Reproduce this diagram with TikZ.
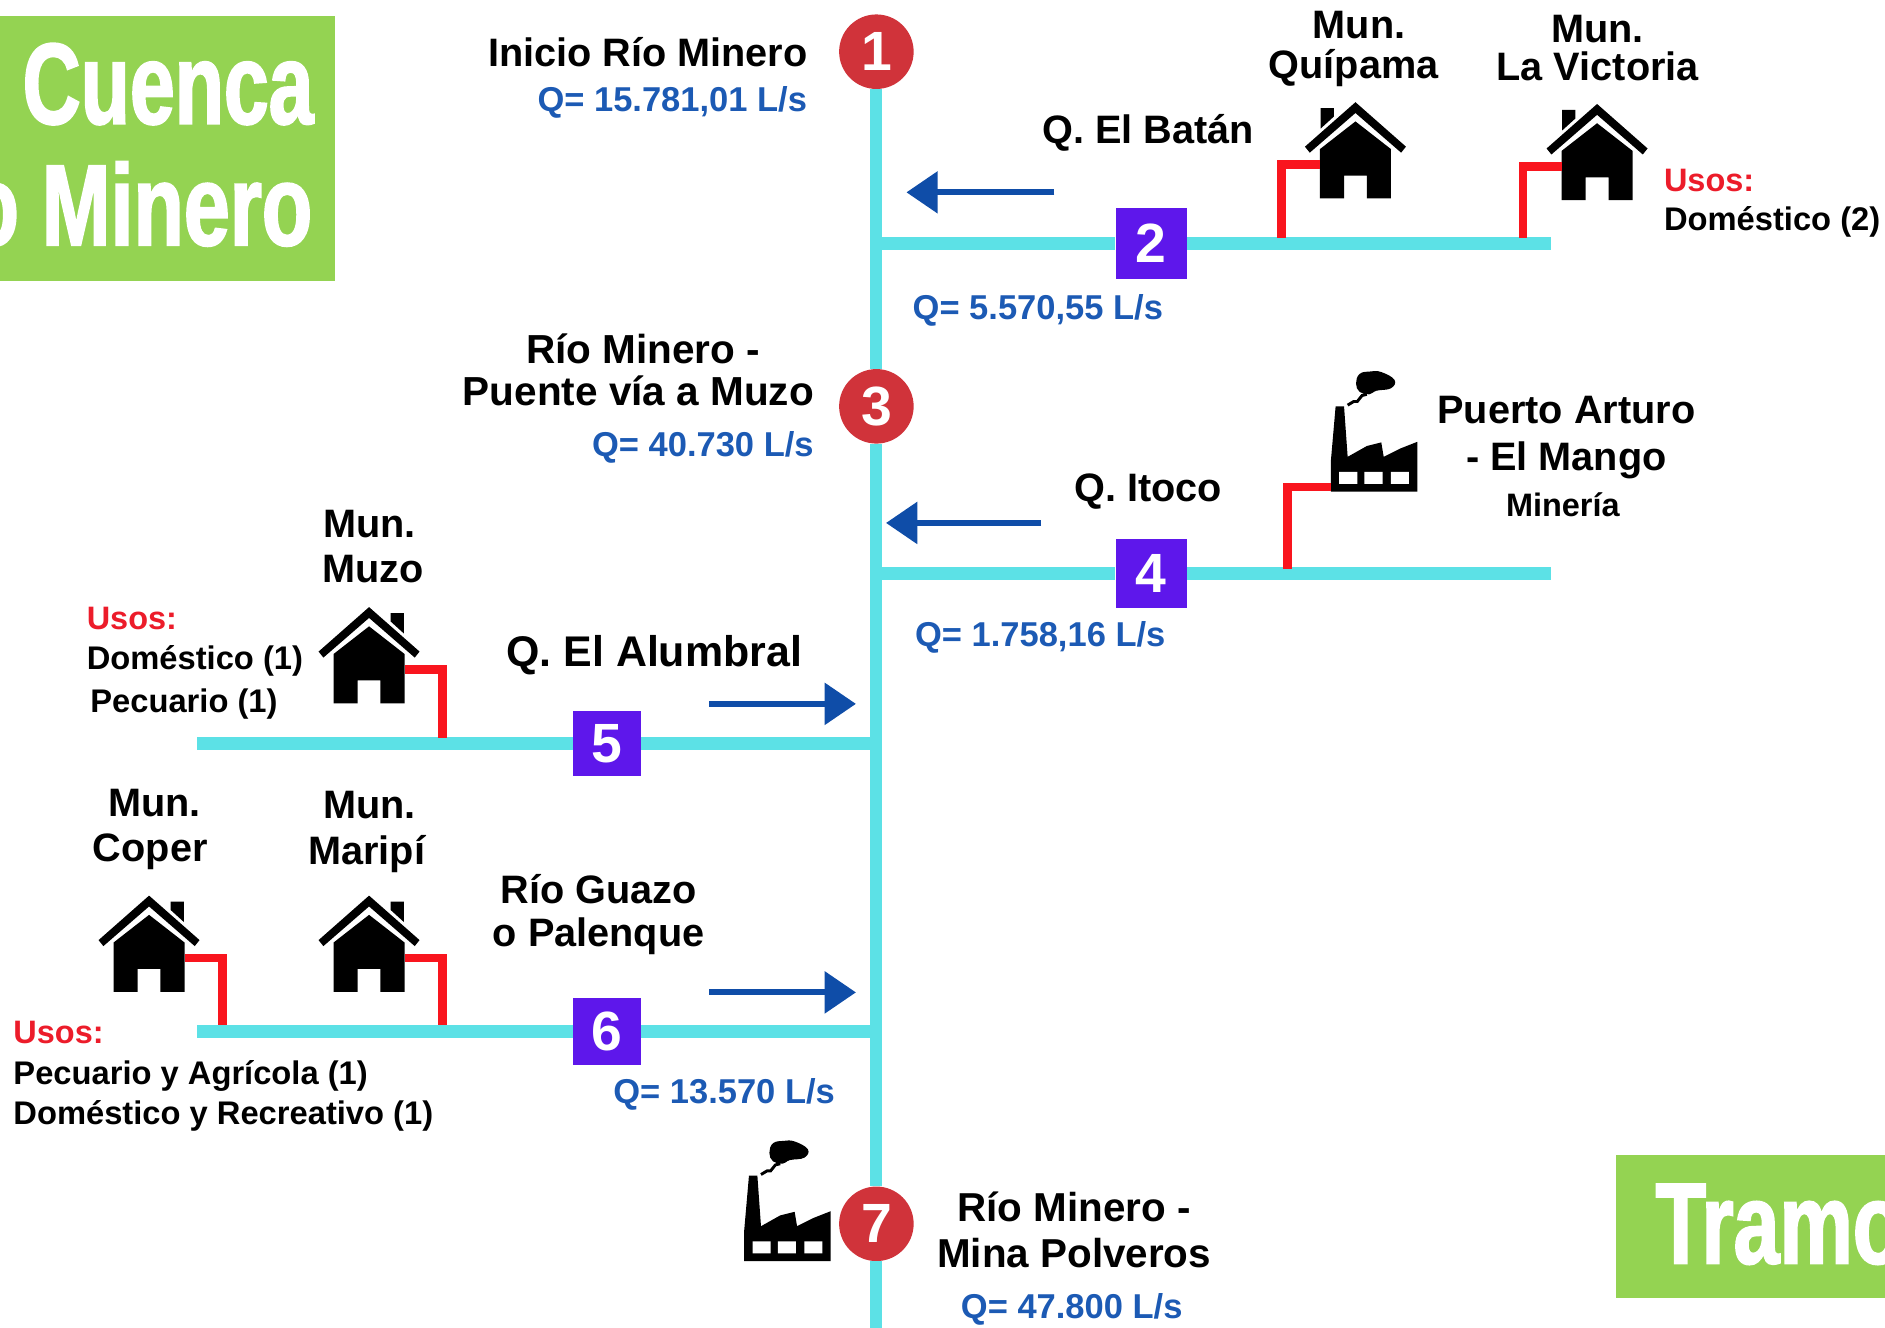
\documentclass[tikz,border=0pt]{standalone}
\usepackage{fontspec}
\setmainfont{Liberation Sans}
\newfontfamily\titlefont{Liberation Sans}[FakeStretch=0.715,FakeBold=1.6]
\usetikzlibrary{arrows.meta}
\definecolor{verde}{HTML}{94D352}
\definecolor{rio}{HTML}{5CE1E6}
\definecolor{morado}{HTML}{5E17EB}
\definecolor{rojoc}{HTML}{D0333A}
\definecolor{rojol}{HTML}{F9151E}
\definecolor{azulf}{HTML}{0F4DA8}
\definecolor{azult}{HTML}{1C5AB4}
\definecolor{rojot}{HTML}{EC1C2A}
\newcommand{\fs}[2]{\fontsize{#1}{#2}\selectfont\bfseries}
\tikzset{
  x=1pt,y=-1pt,
  river/.style={draw=rio,line width=10pt},
  uso/.style={draw=rojol,line width=7pt},
  flujo/.style={draw=azulf,line width=5pt,-{Triangle[length=26pt,width=34pt]}},
  punto/.style={circle,fill=rojoc,minimum size=62pt,inner sep=0pt,text=white,font=\fs{46}{46}},
  tramo/.style={rectangle,fill=morado,inner sep=0pt,text=white,font=\fs{46}{46}},
  banner/.style={fill=verde,draw=none},
  titulo/.style={text=white,inner sep=0pt,font=\titlefont\fs{96}{101}},
  nombre/.style={inner sep=0pt,align=center,text=black,font=\fs{33}{36}},
  nombreg/.style={inner sep=0pt,text=black,font=\fs{35.7}{38}},
  caudal/.style={inner sep=0pt,text=azult,font=\fs{28.7}{30}},
  usos/.style={inner sep=0pt,align=left,text=black,font=\fs{27.2}{33.5}},
  usot/.style={inner sep=0pt,text=rojot,font=\fs{27}{30}},
  casa/.pic={
    \fill[black] (-42,37)--(0,0)--(42,37)--(38,42)--(0,9)--(-38,42)--cycle;
    \fill[black] (-29,22)--(-29,5)--(-18,5)--(-18,12)--cycle;
    \fill[black,even odd rule] (-29.5,39)--(0,16)--(29.5,39)--(29.5,80)--(9.5,80)--(9.5,61)--(-9.5,61)--(-9.5,80)--(-29.5,80)--cycle;
    \coordinate (-w) at (-29.5,52);
  },
  fabrica/.pic={
    \fill[black] (0,0)--(0,-25)--(4,-71)--(11,-71)--(14,-29)--(30,-38)--(42,-41)--(44,-29)--(58,-36)--(72,-41.5)--(72,0)--cycle;
    \fill[white] (7,-16.5) rectangle (22,-6.5) (28,-16.5) rectangle (43,-6.5) (50,-16.5) rectangle (65,-6.5);
    \fill[black] plot[smooth cycle,tension=.7] coordinates {(21,-90)(24,-98)(33,-100)(42,-99.5)(53,-93)(50,-86)(38,-84)(32,-81)(24,-83)};
    \draw[black,line width=2.4pt] (14,-72)--(19,-75)--(22,-75)--(26,-80)--(30,-81);
    \coordinate (-w) at (0,-4);
  }
}
\begin{document}
\begin{tikzpicture}
\useasboundingbox (0,0) rectangle (1568,1104.6);
\clip (0,0) rectangle (1568,1104.6);
% banners
\fill[banner] (0,13) rectangle (279,234);
\fill[banner] (1344,961) rectangle (1568,1080);
\node[titulo,anchor=base east] (tcuenca) at (261,103) {\scalebox{0.976}[1]{Cuenca}};
\node[titulo,anchor=base east] (tminero) at (260,204) {o Minero};
\node[titulo,anchor=base west] (ttramo) at (1377,1051) {Tramo};
% main nodes
\node[punto] (n1) at (729,43) {1};
\node[punto] (n3) at (729,338) {3};
\node[punto] (n7) at (729,1018) {7};
\node[tramo,minimum width=59pt,minimum height=59pt] (n2) at (957.5,202.5) {2};
\node[tramo,minimum width=59pt,minimum height=58pt] (n4) at (957.5,477) {4};
\node[tramo,minimum width=56pt,minimum height=54pt] (n5) at (505,618.5) {5};
\node[tramo,minimum width=56pt,minimum height=55pt] (n6) at (505,858) {6};
% coordinates
\coordinate (fin) at (729,1104.6);
\coordinate (j2) at (729,202.5);
\coordinate (e2) at (1290,202.5);
\coordinate (j4) at (729,477);
\coordinate (e4) at (1290,477);
\coordinate (j5) at (729,618.5);
\coordinate (e5) at (164,618.5);
\coordinate (j6) at (729,858);
\coordinate (e6) at (164,858);
\coordinate (rq) at (1066,198);
\coordinate (rv) at (1267,198);
\coordinate (ri) at (1071,473);
\coordinate (rm) at (368,614);
\coordinate (rc) at (185,853);
\coordinate (ra) at (368,853);
% river
\draw[river,line width=11pt] (j2) -- (n2) -- (e2);
\draw[river,line width=11pt] (j4) -- (n4) -- (e4);
\draw[river,line width=11pt] (j5) -- (n5) -- (e5);
\draw[river,line width=11pt] (j6) -- (n6) -- (e6);
\draw[river] (n1) -- (n3);
\draw[river] (n3) -- (n7);
\draw[river] (n7) -- (fin);
% pics
\pic (q) at (1127.5,85) {casa};
\pic (v) at (1328.5,86.5) {casa};
\pic[xscale=-1] (m) at (307,505) {casa};
\pic[xscale=-1] (c) at (124,745) {casa};
\pic[xscale=-1] (a) at (307,745) {casa};
\pic (f1) at (1107,409) {fabrica};
\pic (f2) at (619,1049) {fabrica};
% uses
\draw[uso] (q-w) -| (rq);
\draw[uso] (v-w) -| (rv);
\draw[uso] (f1-w) -| (ri);
\draw[uso] (m-w) -| (rm);
\draw[uso] (c-w) -| (rc);
\draw[uso] (a-w) -| (ra);
% arrows
\coordinate (a2s) at (877,160); \coordinate (a2e) at (754,160);
\coordinate (a4s) at (866,435); \coordinate (a4e) at (737,435);
\coordinate (a5s) at (590,585.5); \coordinate (a5e) at (712,585.5);
\coordinate (a6s) at (590,825.5); \coordinate (a6e) at (712,825.5);
\draw[flujo] (a2s) -- (a2e);
\draw[flujo] (a4s) -- (a4e);
\draw[flujo] (a5s) -- (a5e);
\draw[flujo] (a6s) -- (a6e);
% labels
\node[nombre,anchor=base east] (l1) at (672,55) {Inicio Río Minero};
\node[caudal,anchor=base east] (c1) at (671.5,93) {Q= 15.781,01 L/s};
\node[nombre,font=\fs{33}{33}] (lq) at (1126,41) {\hspace*{9pt}Mun.\\Quípama};
\node[nombre,font=\fs{33}{32}] (lv) at (1329,40) {Mun.\\La Victoria};
\node[nombre,anchor=base west] (lb) at (867,119) {Q. El Batán};
\node[usot,anchor=base west] (uv) at (1384,159) {Usos:};
\node[usos,anchor=base west] (dv) at (1384,192) {Doméstico (2)};
\node[caudal,anchor=base west] (c2) at (759,265.5) {Q= 5.570,55 L/s};
\node[nombre,font=\fs{33.7}{35}] (l3) at (531,307.5) {\hspace*{8pt}Río Minero -\\Puente vía a Muzo};
\node[caudal,anchor=base east] (c3) at (677,380) {Q= 40.730 L/s};
\node[nombre,font=\fs{33}{39}] (lp) at (1303,364) {Puerto Arturo\\- El Mango};
\node[usos,font=\fs{27}{30},anchor=base] (lmi) at (1300,430) {Minería};
\node[nombre,anchor=base] (lit) at (955,417) {Q. Itoco};
\node[caudal,anchor=base west] (c4) at (761,538) {Q= 1.758,16 L/s};
\node[nombre,font=\fs{33}{38}] (lm) at (310,454.5) {\hspace*{-5pt}Mun.\\Muzo};
\node[usot,anchor=base west] (um) at (72,524) {Usos:};
\node[usos,anchor=base west] (dm) at (72,557) {Doméstico (1)};
\node[usos,anchor=base west] (pm) at (75,593) {Pecuario (1)};
\node[nombreg,anchor=base west] (la) at (421,554) {Q. El Alumbral};
\node[nombre,font=\fs{33}{38}] (lc) at (125,690) {\hspace*{7pt}Mun.\\Coper};
\node[nombre,font=\fs{33}{38}] (lr) at (305,692) {\hspace*{5pt}Mun.\\Maripí};
\node[nombre] (lg) at (498,761) {Río Guazo\\o Palenque};
\node[usot,anchor=base west] (uc) at (11,868) {Usos:};
\node[usos,anchor=base west] (dc) at (11,902) {Pecuario y Agrícola (1)};
\node[usos,anchor=base west] (dd) at (11,935) {Doméstico y Recreativo (1)};
\node[caudal,anchor=base west] (c6) at (510,918) {Q= 13.570 L/s};
\node[nombre,font=\fs{33.6}{38}] (l7) at (893.5,1023) {Río Minero -\\Mina Polveros};
\node[caudal,anchor=base] (c7) at (891.5,1097) {Q= 47.800 L/s};
\end{tikzpicture}
\end{document}
